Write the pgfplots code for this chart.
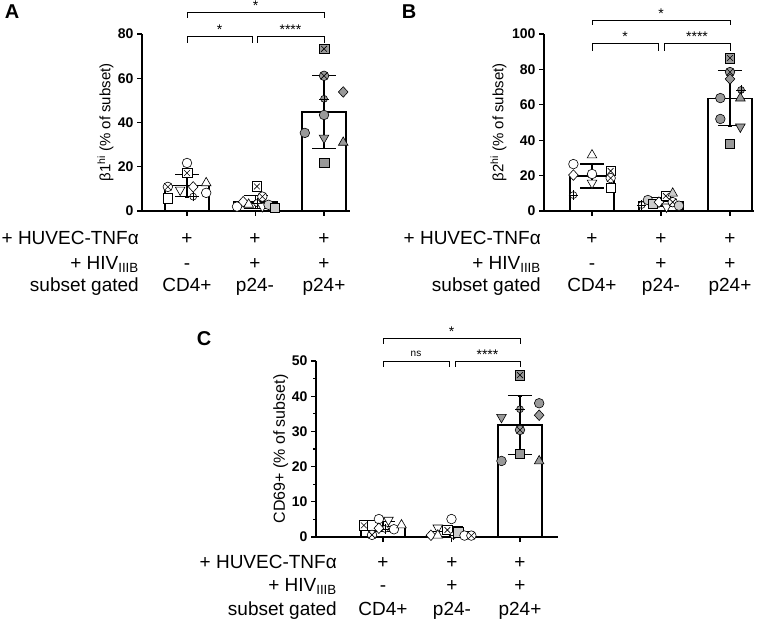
\documentclass[border=0pt]{standalone}
\usepackage{fontspec}
\setmainfont{Liberation Sans}
\usepackage{pgfplots}
\pgfplotsset{compat=1.18}
\usetikzlibrary{plotmarks}
\definecolor{LG}{gray}{0.8}
\definecolor{G}{gray}{0.6}
\pgfdeclareplotmark{boxx}{%
  \pgfpathrectangle{\pgfpoint{-\pgfplotmarksize}{-\pgfplotmarksize}}{\pgfpoint{2\pgfplotmarksize}{2\pgfplotmarksize}}%
  \pgfusepathqfillstroke
  \pgfpathmoveto{\pgfpoint{-0.6\pgfplotmarksize}{-0.6\pgfplotmarksize}}%
  \pgfpathlineto{\pgfpoint{0.6\pgfplotmarksize}{0.6\pgfplotmarksize}}%
  \pgfpathmoveto{\pgfpoint{-0.6\pgfplotmarksize}{0.6\pgfplotmarksize}}%
  \pgfpathlineto{\pgfpoint{0.6\pgfplotmarksize}{-0.6\pgfplotmarksize}}%
  \pgfusepathqstroke}
\pgfdeclareplotmark{xhair}{%
  \pgfpathcircle{\pgfpointorigin}{0.72\pgfplotmarksize}\pgfusepathqfillstroke
  \pgfpathmoveto{\pgfpoint{-\pgfplotmarksize}{0pt}}\pgfpathlineto{\pgfpoint{\pgfplotmarksize}{0pt}}%
  \pgfpathmoveto{\pgfpoint{0pt}{-\pgfplotmarksize}}\pgfpathlineto{\pgfpoint{0pt}{\pgfplotmarksize}}%
  \pgfusepathqstroke}
\pgfdeclareplotmark{dtri}{%
  \pgfpathmoveto{\pgfpoint{0pt}{-1.15\pgfplotmarksize}}%
  \pgfpathlineto{\pgfpoint{1.0\pgfplotmarksize}{0.6\pgfplotmarksize}}%
  \pgfpathlineto{\pgfpoint{-1.0\pgfplotmarksize}{0.6\pgfplotmarksize}}%
  \pgfpathclose\pgfusepathqfillstroke}
\pgfdeclareplotmark{utri}{%
  \pgfpathmoveto{\pgfpoint{0pt}{1.15\pgfplotmarksize}}%
  \pgfpathlineto{\pgfpoint{1.0\pgfplotmarksize}{-0.6\pgfplotmarksize}}%
  \pgfpathlineto{\pgfpoint{-1.0\pgfplotmarksize}{-0.6\pgfplotmarksize}}%
  \pgfpathclose\pgfusepathqfillstroke}
\pgfdeclareplotmark{dia}{%
  \pgfpathmoveto{\pgfpoint{0pt}{1.1\pgfplotmarksize}}%
  \pgfpathlineto{\pgfpoint{1.0\pgfplotmarksize}{0pt}}%
  \pgfpathlineto{\pgfpoint{0pt}{-1.1\pgfplotmarksize}}%
  \pgfpathlineto{\pgfpoint{-1.0\pgfplotmarksize}{0pt}}%
  \pgfpathclose\pgfusepathqfillstroke}
\pgfdeclareplotmark{capline}{%
  \pgfpathmoveto{\pgfpoint{-\pgfplotmarksize}{0pt}}%
  \pgfpathlineto{\pgfpoint{\pgfplotmarksize}{0pt}}%
  \pgfusepathqstroke}
\newcommand\dpt[4]{\addplot[only marks, forget plot, draw=black, fill=#2, line width=0.6pt, mark size=4.8pt, mark=#1] coordinates {(#3,#4)};}
\pgfplotsset{pan/.style={scale only axis, anchor=south west,
  axis x line*=bottom, axis y line*=left,
  axis line style={line width=1.3pt, -},
  tick style={line width=1.3pt, black}, tick align=outside,
  major tick length=5pt, minor tick length=3pt,
  xtick={1,2,3}, xticklabels={}, clip=false,
  ticklabel style={font=\bfseries\fontsize{14}{14}\selectfont},
  /pgf/number format/assume math mode=true,
  ylabel style={font=\fontsize{15}{15}\selectfont, anchor=south}},
  barplt/.style={ybar, bar width=44pt, fill=white, draw=black, line width=1.3pt, forget plot},
  errplt/.style={forget plot, draw=none, mark=none,
  error bars/.cd, y dir=both, y explicit,
  error bar style={line width=1.2pt, draw=black, solid}},
  capplt/.style={only marks, forget plot, mark=capline, mark size=12pt, line width=1.2pt, draw=black}}
\newcommand\rf{\fontsize{19}{19}\selectfont}
\newcommand\br[6]{\draw[line width=0.9pt] (#1,{622-#3-#4}) -- (#1,{622-#3}) -- (#2,{622-#3}) -- (#2,{622-#3-#4});
  \node[anchor=base, inner sep=0pt, font=#6] at ({(#1+#2)/2},{623-#3}) {#5};}
\begin{document}
\begin{tikzpicture}[x=1pt,y=1pt]
\useasboundingbox (0,0) rectangle (777,622);
% ---------- Panel A ----------
\begin{axis}[pan, at={(142pt,411pt)}, width=208pt, height=177pt,
  xmin=0.343, xmax=3.379, ymin=0, ymax=80, ytick={0,20,40,60,80},
  ylabel={β1\textsuperscript{hi} (\% of subset)},
  ylabel style={at={(axis description cs:-0.12,0.5)}}]
\addplot[barplt] coordinates {(1,11.5) (2,4.07) (3,44.8)};
\addplot[errplt] coordinates {(1,11.5) +- (0,5.1) (2,4.07) +- (0,2.96) (3,44.8) +- (0,16.4)};
\addplot[capplt] coordinates {(1,16.6) (1,6.4) (2,7.03) (2,1.11) (3,61.2) (3,28.4)};
\dpt{*}{white}{1}{21.7}
\dpt{boxx}{white}{1}{17.2}
\dpt{otimes*}{white}{0.72}{10.9}
\dpt{dtri}{white}{0.9}{9.5}
\dpt{dia}{white}{1.09}{10.9}
\dpt{utri}{white}{1.28}{12.7}
\dpt{*}{white}{1.28}{8.2}
\dpt{square*}{white}{0.72}{5.8}
\dpt{xhair}{white}{1.09}{6.5}
\dpt{*}{white}{1.73}{2.0}
\dpt{dia}{white}{1.82}{4.2}
\dpt{utri}{white}{1.9}{3.0}
\dpt{xhair}{white}{2.02}{3.6}
\dpt{boxx}{white}{2.02}{11.1}
\dpt{dtri}{white}{2.1}{2.0}
\dpt{otimes*}{white}{2.1}{6.5}
\dpt{*}{LG}{2.19}{2.8}
\dpt{square*}{LG}{2.28}{1.4}
\dpt{boxx}{G}{3}{73.3}
\dpt{otimes*}{G}{3}{61.1}
\dpt{xhair}{G}{3}{50.7}
\dpt{*}{G}{3}{43.4}
\dpt{*}{G}{2.72}{35.3}
\dpt{dtri}{G}{3}{33}
\dpt{square*}{G}{3}{21.7}
\dpt{dia}{G}{3.28}{53.8}
\dpt{utri}{G}{3.28}{31}
\end{axis}
% ---------- Panel B ----------
\begin{axis}[pan, at={(544pt,411pt)}, width=210pt, height=177pt,
  xmin=0.304, xmax=3.348, ymin=0, ymax=100, ytick={0,20,40,60,80,100},
  ylabel={β2\textsuperscript{hi} (\% of subset)},
  ylabel style={at={(axis description cs:-0.162,0.5)}}]
\addplot[barplt] coordinates {(1,19.8) (2,5.27) (3,63.7)};
\addplot[errplt] coordinates {(1,19.8) +- (0,6.8) (2,5.27) +- (0,2.57) (3,63.7) +- (0,15.6)};
\addplot[capplt] coordinates {(1,26.6) (1,13.0) (2,7.84) (2,2.7) (3,79.3) (3,48.1)};
\dpt{*}{white}{0.73}{26.5}
\dpt{dia}{white}{0.73}{20.3}
\dpt{xhair}{white}{0.73}{9}
\dpt{utri}{white}{1}{31.6}
\dpt{*}{white}{1}{20.9}
\dpt{dtri}{white}{1}{15.8}
\dpt{boxx}{white}{1.27}{22.6}
\dpt{otimes*}{white}{1.27}{18.6}
\dpt{square*}{white}{1.27}{13}
\dpt{xhair}{white}{1.72}{3.4}
\dpt{*}{LG}{1.81}{6.2}
\dpt{square*}{LG}{1.88}{4}
\dpt{dia}{white}{1.97}{5}
\dpt{boxx}{white}{2.07}{8.5}
\dpt{utri}{LG}{2.17}{10}
\dpt{dtri}{white}{2.08}{2.3}
\dpt{otimes*}{white}{2.17}{5}
\dpt{*}{LG}{2.26}{3}
\dpt{boxx}{G}{3}{86.4}
\dpt{otimes*}{G}{3}{78.5}
\dpt{dia}{G}{3}{74.6}
\dpt{xhair}{G}{3.16}{68.4}
\dpt{*}{G}{2.86}{63.8}
\dpt{utri}{G}{3.15}{63.8}
\dpt{*}{G}{2.86}{52}
\dpt{dtri}{G}{3.15}{47.5}
\dpt{square*}{G}{3}{37.9}
\end{axis}
% ---------- Panel C ----------
\begin{axis}[pan, at={(316pt,85pt)}, width=242pt, height=176pt,
  xmin=0.022, xmax=3.555, ymin=0, ymax=50, ytick={0,10,20,30,40,50}, minor y tick num=1,
  ylabel={CD69+ (\% of subset)},
  ylabel style={font=\fontsize{16}{16}\selectfont, at={(axis description cs:-0.1,0.5)}}]
\addplot[barplt] coordinates {(1,3.04) (2,1.49) (3,31.8)};
\addplot[errplt] coordinates {(1,3.04) +- (0,1.4) (2,1.49) +- (0,1.57) (3,31.8) +- (0,8.3)};
\addplot[capplt] coordinates {(1,4.44) (1,1.64) (2,3.06) (3,40.1) (3,23.5)};
\dpt{boxx}{white}{0.72}{3.3}
\dpt{square*}{white}{0.84}{3.3}
\dpt{*}{white}{0.94}{5.1}
\dpt{otimes*}{white}{0.84}{0.6}
\dpt{xhair}{white}{1.03}{2.3}
\dpt{dtri}{white}{1.08}{4.8}
\dpt{dia}{white}{0.94}{2.5}
\dpt{*}{white}{1.16}{2.2}
\dpt{utri}{white}{1.27}{3.4}
\dpt{*}{white}{2}{5.1}
\dpt{dtri}{white}{1.8}{2.6}
\dpt{dia}{white}{1.7}{0.5}
\dpt{utri}{white}{1.8}{0.5}
\dpt{boxx}{white}{1.94}{2}
\dpt{xhair}{white}{2.03}{0.5}
\dpt{square*}{LG}{2.1}{1.4}
\dpt{*}{white}{2.19}{0.4}
\dpt{otimes*}{white}{2.29}{0.4}
\dpt{boxx}{G}{3}{46}
\dpt{xhair}{G}{3}{36.3}
\dpt{otimes*}{G}{3}{30.4}
\dpt{square*}{G}{3}{23.6}
\dpt{dtri}{G}{2.73}{34}
\dpt{*}{G}{2.73}{21.6}
\dpt{*}{G}{3.28}{38}
\dpt{dia}{G}{3.28}{34.6}
\dpt{utri}{G}{3.28}{21.6}
\end{axis}
% ---------- brackets ----------
\br{187}{324}{12}{6}{*}{\fontsize{14}{14}\selectfont}
\br{187}{252}{36}{7}{*}{\fontsize{14}{14}\selectfont}
\br{257}{324}{36}{7}{****}{\fontsize{14}{14}\selectfont}
\br{592}{730}{20}{5}{*}{\fontsize{14}{14}\selectfont}
\br{592}{658}{43}{8}{*}{\fontsize{14}{14}\selectfont}
\br{664}{730}{43}{8}{****}{\fontsize{14}{14}\selectfont}
\br{383}{520}{338}{6}{*}{\fontsize{14}{14}\selectfont}
\br{383}{449}{361}{6}{\raisebox{3pt}{ns}}{\fontsize{10}{10}\selectfont}
\br{455}{520}{361}{6}{****}{\fontsize{14}{14}\selectfont}
% ---------- panel letters ----------
\node[font=\bfseries\fontsize{20}{20}\selectfont] at (12,610) {A};
\node[font=\bfseries\fontsize{20}{20}\selectfont] at (409,610) {B};
\node[font=\bfseries\fontsize{20}{20}\selectfont] at (204,283) {C};
% ---------- condition rows ----------
\foreach \xr/\ya/\yb/\yc/\ca/\cb/\cc in {139/377/352.5/330/187/255/324, 541/377/352.5/330/592/661/730, 337/54/31/7/383/452/520}{
  \node[anchor=base east, inner sep=0pt, font=\rf] at (\xr,\ya) {+ HUVEC-TNFα};
  \node[anchor=base east, inner sep=0pt, font=\rf] at (\xr,\yb) {+ HIV\textsubscript{IIIB}};
  \node[anchor=base east, inner sep=0pt, font=\rf] at (\xr,\yc) {subset gated};
  \node[anchor=base, inner sep=0pt, font=\rf] at (\ca,\ya) {+};
  \node[anchor=base, inner sep=0pt, font=\rf] at (\cb,\ya) {+};
  \node[anchor=base, inner sep=0pt, font=\rf] at (\cc,\ya) {+};
  \node[anchor=base, inner sep=0pt, font=\rf] at (\ca,\yb) {-};
  \node[anchor=base, inner sep=0pt, font=\rf] at (\cb,\yb) {+};
  \node[anchor=base, inner sep=0pt, font=\rf] at (\cc,\yb) {+};
  \node[anchor=base, inner sep=0pt, font=\rf] at (\ca,\yc) {CD4+};
  \node[anchor=base, inner sep=0pt, font=\rf] at (\cb,\yc) {p24-};
  \node[anchor=base, inner sep=0pt, font=\rf] at (\cc,\yc) {p24+};
}
\end{tikzpicture}
\end{document}
